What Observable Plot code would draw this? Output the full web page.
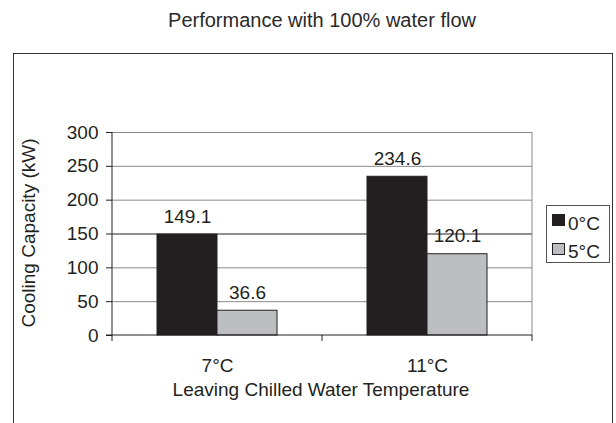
<!DOCTYPE html>
<html><head><meta charset="utf-8">
<script src="https://cdn.jsdelivr.net/npm/d3@7"></script>
<script src="https://cdn.jsdelivr.net/npm/@observablehq/plot@0.6"></script>
<style>
body{margin:0;background:#fff;}
#wrap{position:relative;width:616px;height:423px;overflow:hidden;background:#fff;font-family:"Liberation Sans",Arial,sans-serif;color:#231f20;}
#box{position:absolute;left:13px;top:53px;width:598px;height:420px;border:1px solid #333;}
.t{position:absolute;white-space:nowrap;line-height:1;}
#title{font-size:20px;top:10px;left:322px;transform:translateX(-50%);color:#2a2a2a;}
#xtitle{font-size:19px;top:380px;left:321px;transform:translateX(-50%);}
#ytitle{font-size:19px;left:28px;top:233px;transform:translate(-50%,-50%) rotate(-90deg);height:19px;}
#legend{position:absolute;left:546px;top:205px;width:62px;height:56px;border:1px solid #555;background:#fff;}
.sw{position:absolute;width:13px;height:12px;box-sizing:border-box;}
.lt{position:absolute;font-size:19px;line-height:1;white-space:nowrap;}
svg{position:absolute;left:0;top:0;}
</style></head><body><div id="wrap"><div id="box"></div></div>
<script>
const categories = ["7°C", "11°C"];
const series = ["0°C", "5°C"];
const values0C = [149.1, 234.6];
const values5C = [36.6, 120.1];
const yTicks = [0, 50, 100, 150, 200, 250, 300];
const colors = ["#231f20", "#bcbec0"];
const titleText = "Performance with 100% water flow";
const xTitleText = "Leaving Chilled Water Temperature";
const yTitleText = "Cooling Capacity (kW)";

const seriesValues = [values0C, values5C];
const data = categories.flatMap((c, i) => series.map((s, j) => ({cat: c, s, v: seriesValues[j][i]})));

const ink = "#231f20";
const plot = Plot.plot({
  width: 616, height: 423,
  marginLeft: 111, marginRight: 84, marginTop: 132, marginBottom: 88,
  style: {fontFamily: '"Liberation Sans", Arial, sans-serif', fontSize: "19px", color: ink, background: "transparent", overflow: "visible"},
  fx: {domain: categories, padding: 0, label: null},
  x: {domain: series, paddingInner: 0, paddingOuter: 0.725, axis: null},
  y: {domain: [0, 300], label: null},
  color: {domain: series, range: colors},
  marks: [
    Plot.gridY(yTicks.filter(t => t > 0 && t !== 150), {stroke: "#8a8a8a", strokeOpacity: 1}),
    Plot.gridY(yTicks.filter(t => t === 150), {stroke: ink, strokeOpacity: 1}),
    Plot.barY(data, {fx: "cat", x: "s", y: "v", fill: "s", stroke: ink, strokeWidth: 1}),
    Plot.text(data, {fx: "cat", x: "s", y: "v", text: d => d.v.toFixed(1), dy: -18, fontSize: 19, fill: ink}),
    Plot.axisY({ticks: yTicks, tickSize: 6, tickPadding: 8, label: null, fontSize: 19}),
    Plot.axisFx({anchor: "bottom", tickSize: 0, tickPadding: 23, label: null, fontSize: 19})
  ]
});

// axis lines, frame edges and category boundary ticks from the plot's own scales
const fx = plot.scale("fx"), y = plot.scale("y");
const xL = fx.apply(categories[0]);
const xR = fx.apply(categories[categories.length - 1]) + fx.bandwidth;
const y0 = y.apply(0), yT = y.apply(300);
const svg = d3.select(plot);
const g = svg.append("g").attr("fill", "none");
g.append("line").attr("x1", xR).attr("x2", xR).attr("y1", yT).attr("y2", y0).attr("stroke", "#8a8a8a");
g.append("line").attr("x1", xL).attr("x2", xL).attr("y1", yT).attr("y2", y0).attr("stroke", ink);
g.append("line").attr("x1", xL - 6).attr("x2", xR).attr("y1", y0).attr("y2", y0).attr("stroke", ink);
const bounds = categories.map(c => fx.apply(c)).concat([xR]);
bounds.forEach(b => g.append("line").attr("x1", b).attr("x2", b).attr("y1", y0).attr("y2", y0 + 6).attr("stroke", ink));

const wrap = document.getElementById("wrap");
wrap.appendChild(plot);

function addText(id, txt) {
  const d = document.createElement("div");
  d.id = id; d.className = "t"; d.textContent = txt;
  wrap.appendChild(d);
}
addText("title", titleText);
addText("xtitle", xTitleText);
addText("ytitle", yTitleText);

const legend = document.createElement("div");
legend.id = "legend";
series.forEach((s, i) => {
  const sw = document.createElement("div");
  sw.className = "sw";
  sw.style.left = "5px";
  sw.style.top = (8 + i * 28.5) + "px";
  sw.style.background = colors[i];
  sw.style.border = "1px solid " + ink;
  legend.appendChild(sw);
  const t = document.createElement("div");
  t.className = "lt";
  t.style.left = "21px";
  t.style.top = (7.5 + i * 28.5) + "px";
  t.textContent = s;
  legend.appendChild(t);
});
wrap.appendChild(legend);
</script></body></html>
